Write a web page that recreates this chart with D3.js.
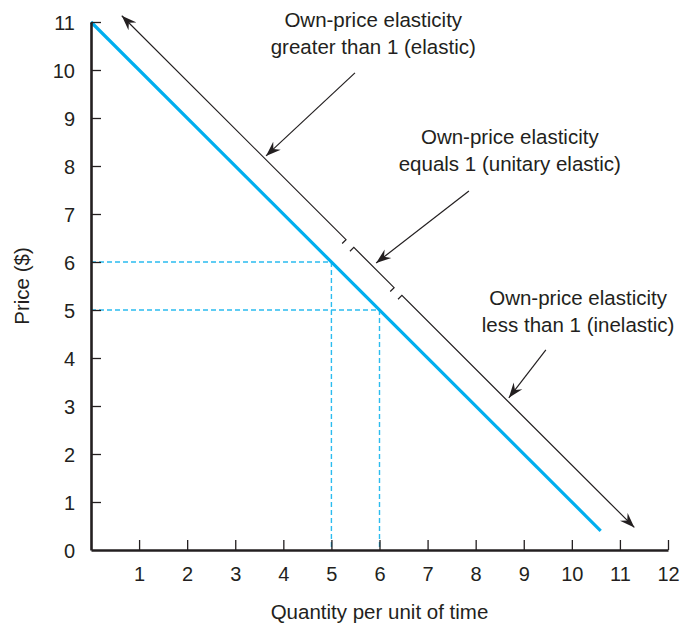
<!DOCTYPE html>
<html>
<head>
<meta charset="utf-8">
<script src="https://cdn.jsdelivr.net/npm/d3@7"></script>
<style>
  html, body { margin: 0; padding: 0; background: #fff; }
  svg { display: block; font-family: "Liberation Sans", Arial, Helvetica, sans-serif; }
</style>
</head>
<body>
<svg id="chart" width="681" height="626"></svg>
<script>
// ---- data ----
const priceTicks = [0, 1, 2, 3, 4, 5, 6, 7, 8, 9, 10, 11];
const quantityTicks = [1, 2, 3, 4, 5, 6, 7, 8, 9, 10, 11, 12];
const demandQ = [0, 10.6];
const demandP = [11, 0.4];
const markedQ = [5, 6];
const markedP = [6, 5];
// elasticity range line (parallel to demand, Q + P = const)
const rangeLineSum = 11.77;
const rangeLineEndsQ = [0.64, 11.3];
const labelLines = [
  ["Own-price elasticity", "greater than 1 (elastic)"],
  ["Own-price elasticity", "equals 1 (unitary elastic)"],
  ["Own-price elasticity", "less than 1 (inelastic)"]
];
// pointer arrows: tail and tip in data units
const pointerTailQ = [5.49, 7.86, 9.46];
const pointerTailP = [9.94, 7.48, 4.17];
const pointerTipQ = [3.64, 5.93, 8.69];
const pointerTipP = [8.21, 5.98, 3.17];
// label anchor positions (data units)
const labelQ = [5.87, 8.71, 10.13];
const labelP = [10.9, 8.45, 5.1];

// ---- layout ----
const svg = d3.select("#chart");
const x = d3.scaleLinear().domain([0, 12]).range([91, 668]);
const y = d3.scaleLinear().domain([0, 11]).range([550, 22]);
const ink = "#231f20";
const blue = "#00aeef";
const fontSize = 20.5;
const tickFont = 20;

// arrowhead marker
const defs = svg.append("defs");
defs.append("marker")
  .attr("id", "ah")
  .attr("viewBox", "-15 -6 17 12")
  .attr("refX", 0).attr("refY", 0)
  .attr("markerWidth", 17).attr("markerHeight", 12)
  .attr("markerUnits", "userSpaceOnUse")
  .attr("orient", "auto-start-reverse")
  .append("path")
  .attr("d", "M0,0 L-15,-5.5 L-10,0 L-15,5.5 Z")
  .attr("fill", ink);

// dashed guide lines
const dashG = svg.append("g");
markedQ.forEach((q, i) => {
  const p = markedP[i];
  dashG.append("line")
    .attr("x1", x(0)).attr("y1", y(p)).attr("x2", x(q)).attr("y2", y(p))
    .attr("stroke", "#2bbcef").attr("stroke-width", 1.4).attr("stroke-dasharray", "5,3");
  dashG.append("line")
    .attr("x1", x(q)).attr("y1", y(p)).attr("x2", x(q)).attr("y2", y(0))
    .attr("stroke", "#2bbcef").attr("stroke-width", 1.4).attr("stroke-dasharray", "5,3");
});

// demand curve
const demand = demandQ.map((q, i) => [q, demandP[i]]);
svg.append("path")
  .datum(demand)
  .attr("d", d3.line().x(d => x(d[0])).y(d => y(d[1])))
  .attr("fill", "none").attr("stroke", blue).attr("stroke-width", 3.2);

// axes
const yAxis = d3.axisLeft(y).tickValues(priceTicks).tickSizeInner(-10).tickSizeOuter(0).tickPadding(16).tickFormat(d3.format("d"));
const xAxis = d3.axisBottom(x).tickValues(quantityTicks).tickSizeInner(-10).tickSizeOuter(0).tickPadding(17).tickFormat(d3.format("d"));

const gy = svg.append("g").attr("transform", `translate(${x(0)},0)`).call(yAxis);
const gx = svg.append("g").attr("transform", `translate(0,${y(0)})`).call(xAxis);
[gx, gy].forEach(g => {
  g.select(".domain").attr("stroke", ink).attr("stroke-width", 2.6);
  g.selectAll(".tick line").attr("stroke", ink).attr("stroke-width", 1.3);
  g.selectAll(".tick text").attr("fill", ink).attr("font-size", tickFont)
    .attr("font-family", "'Liberation Sans', Arial, sans-serif");
});
gy.selectAll(".tick").filter(d => d === 0).select("line").remove();
gy.selectAll(".tick text").attr("dy", "0.36em");
gx.selectAll(".tick text").attr("dy", "0.71em");

// axis titles
svg.append("text")
  .attr("x", (x(0) + x(12)) / 2 - 0).attr("y", 619)
  .attr("text-anchor", "middle").attr("font-size", fontSize).attr("fill", ink)
  .text("Quantity per unit of time");
svg.append("text")
  .attr("transform", `translate(29,${y(5.5)}) rotate(-90)`)
  .attr("text-anchor", "middle").attr("font-size", fontSize).attr("fill", ink)
  .text("Price ($)");

// elasticity range line with breaks at the perpendicular projections of marked points
function toPx(q) { return [x(q), y(rangeLineSum - q)]; }
const start = toPx(rangeLineEndsQ[0]);
const end = toPx(rangeLineEndsQ[1]);
const dx = end[0] - start[0], dy = end[1] - start[1];
const len = Math.hypot(dx, dy);
const ux = dx / len, uy = dy / len;
// normal toward the demand line (down-left)
const nx = -uy, ny = ux;
const breaks = markedQ.map((q, i) => {
  const d = (rangeLineSum - (q + markedP[i])) / 2;
  return toPx(q + d);
});
const gapHalf = 5.5, hook = 5.5;
const pts = [start];
breaks.forEach(b => {
  pts.push([b[0] - ux * gapHalf, b[1] - uy * gapHalf]);
  pts.push([b[0] + ux * gapHalf, b[1] + uy * gapHalf]);
});
pts.push(end);
const rangeG = svg.append("g").attr("fill", "none").attr("stroke", ink).attr("stroke-width", 1.2);
for (let i = 0; i < pts.length; i += 2) {
  const a = pts[i], b = pts[i + 1];
  let d = "";
  if (i === 0) d += `M${a[0]},${a[1]}`;
  else d += `M${a[0] + nx * hook},${a[1] + ny * hook}L${a[0]},${a[1]}`;
  d += `L${b[0]},${b[1]}`;
  if (i + 2 < pts.length) d += `L${b[0] + nx * hook},${b[1] + ny * hook}`;
  const path = rangeG.append("path").attr("d", d);
  if (i === 0) path.attr("marker-start", "url(#ah)");
  if (i + 2 >= pts.length) path.attr("marker-end", "url(#ah)");
}

// pointer arrows
pointerTailQ.forEach((q, i) => {
  svg.append("line")
    .attr("x1", x(q)).attr("y1", y(pointerTailP[i]))
    .attr("x2", x(pointerTipQ[i])).attr("y2", y(pointerTipP[i]))
    .attr("stroke", ink).attr("stroke-width", 1.2)
    .attr("marker-end", "url(#ah)");
});

// labels
labelLines.forEach((lines, i) => {
  const t = svg.append("text")
    .attr("x", x(labelQ[i])).attr("y", y(labelP[i]))
    .attr("text-anchor", "middle").attr("font-size", fontSize).attr("fill", ink);
  lines.forEach((s, j) => {
    t.append("tspan").attr("x", x(labelQ[i])).attr("dy", j === 0 ? 0 : 27).text(s);
  });
});
</script>
</body>
</html>
